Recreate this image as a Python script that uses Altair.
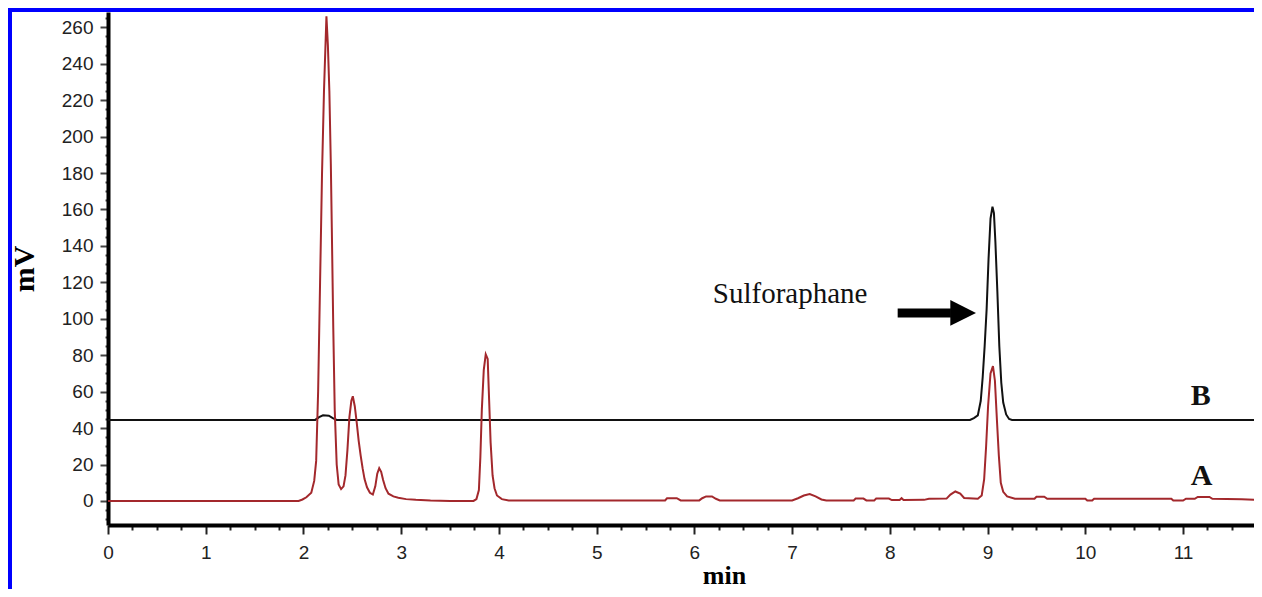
import altair as alt
import pandas as pd

# ---- chromatogram A (red) ----
a_x = [0, 1.95, 1.99, 2.03, 2.08, 2.11, 2.13, 2.15, 2.17, 2.19, 2.21, 2.235, 2.25, 2.265,
       2.28, 2.29, 2.305, 2.32, 2.34, 2.36, 2.385, 2.41, 2.43, 2.45, 2.47, 2.49, 2.505,
       2.525, 2.545, 2.565, 2.585, 2.605, 2.625, 2.65, 2.68, 2.71, 2.735, 2.755, 2.775,
       2.795, 2.815, 2.84, 2.87, 2.92, 2.97, 3.05, 3.15, 3.3, 3.5, 3.74, 3.77, 3.795,
       3.81, 3.825, 3.845, 3.865, 3.885, 3.9, 3.915, 3.935, 3.955, 3.98, 4.03, 4.1,
       5.6, 5.7, 5.72, 5.82, 5.86, 6.05, 6.08, 6.12, 6.18, 6.22, 6.26, 7.0, 7.06, 7.12,
       7.18, 7.24, 7.3, 7.35, 7.63, 7.65, 7.73, 7.76, 7.84, 7.86, 7.99, 8.02, 8.1, 8.12,
       8.14, 8.35, 8.4, 8.58, 8.62, 8.67, 8.72, 8.76, 8.9, 8.94, 8.965, 8.985, 9.005,
       9.03, 9.055, 9.075, 9.095, 9.115, 9.135, 9.16, 9.2, 9.28, 9.48, 9.5, 9.58, 9.61,
       10.0, 10.02, 10.07, 10.09, 10.88, 10.9, 11.0, 11.03, 11.12, 11.15, 11.27, 11.3,
       11.6, 11.81]
a_y = [0, 0, 0.8, 2, 4.5, 11, 22, 60, 120, 180, 225, 266, 250, 225,
       185, 150, 95, 50, 20, 9, 6.5, 8, 14, 28, 46, 55, 57.5,
       52, 43, 33, 25, 18, 12, 7.5, 4.5, 3.5, 8, 15, 18,
       16, 11.5, 7, 4, 2.5, 1.8, 1.0, 0.6, 0.2, 0, 0, 1, 6,
       24, 50, 72, 80.5, 78, 55, 32, 14, 7, 3, 1, 0.2,
       0.2, 0.3, 1.5, 1.5, 0.3, 0.3, 1.5, 2.5, 2.5, 1.2, 0.3, 0.3, 1.5, 3.0,
       3.8, 2.5, 0.8, 0.3, 0.3, 1.3, 1.3, 0.3, 0.3, 1.3, 1.3, 0.5, 0.5, 1.5,
       0.5, 0.6, 1.2, 1.3, 3.5, 5.2, 4.0, 1.6, 1.2, 3, 12, 30, 52,
       70, 74, 66, 45, 25, 10, 5, 2.5, 1.2, 1.2, 2.3, 2.3, 1.2,
       1.2, 0.2, 0.2, 1.2, 1.2, 0.2, 0.2, 1.2, 1.2, 2.2, 2.2, 1.2,
       1.0, 0.5]

# ---- chromatogram B (black) ----
b_x = [0, 2.12, 2.16, 2.2, 2.26, 2.3, 2.34, 8.82, 8.86, 8.9, 8.93, 8.95, 8.97, 8.99,
       9.01, 9.03, 9.05, 9.065, 9.08, 9.1, 9.12, 9.14, 9.16, 9.19, 9.22, 9.25, 11.81]
b_y = [44.5, 44.5, 46, 47, 46.8, 45.5, 44.5, 44.5, 45.5, 47, 55, 68, 85, 105,
       133, 155, 161.5, 158, 142, 115, 85, 65, 54, 47.5, 45, 44.5, 44.5]

# ---- axes ----
x_ticks = [i * 0.25 for i in range(47)]
y_ticks = list(range(-10, 266, 5))
X_DOMAIN = [0, 11.726]
Y_DOMAIN = [-13.2, 268.4]

# ---- annotations ----
name_text = ["Sulforaphane"]
name_x = [6.98]
name_y = [108.7]
trace_text = ["B", "A"]
trace_x = [11.18, 11.19]
trace_y = [52.7, 8.8]
arrow_x = [8.08, 8.625]
arrow_y = [103.2, 103.2]
head_x = [8.75]
head_y = [103.2]

df_a = pd.DataFrame({"x": a_x, "y": a_y})
df_b = pd.DataFrame({"x": b_x, "y": b_y})
df_name = pd.DataFrame({"x": name_x, "y": name_y, "t": name_text})
df_trace = pd.DataFrame({"x": trace_x, "y": trace_y, "t": trace_text})
df_arrow = pd.DataFrame({"x": arrow_x, "y": arrow_y})
df_head = pd.DataFrame({"x": head_x, "y": head_y})
df_one = pd.DataFrame({"x": [0], "y": [0]})

is_major_x = "datum.value % 1 === 0"
is_major_y = "datum.value % 20 === 0"

x_axis = alt.Axis(
    values=x_ticks,
    labelExpr=f"{is_major_x} ? format(datum.value, 'd') : ''",
    tickSize={"condition": {"test": is_major_x, "value": 9}, "value": 5},
    tickWidth=2, tickColor="#222",
    domainColor="#000", domainWidth=4,
    labelFont="Liberation Sans", labelFontSize=19, labelColor="#222",
    labelPadding=9, labelFlush=False, labelOverlap=False, grid=False,
    titleFont="Liberation Serif", titleFontWeight="bold", titleFontSize=26,
    titleColor="#000", titleX=616, titleY=58, titleBaseline="alphabetic",
    titleAlign="center",
)
y_axis = alt.Axis(
    values=y_ticks,
    labelExpr=f"{is_major_y} && datum.value >= 0 ? format(datum.value, 'd') : ''",
    tickSize={"condition": {"test": is_major_y, "value": 8}, "value": 3},
    tickWidth=2, tickColor="#444",
    domainColor="#000", domainWidth=4,
    labelFont="Liberation Sans", labelFontSize=19, labelColor="#222",
    labelPadding=7, labelOverlap=False, grid=False,
    titleFont="Liberation Serif", titleFontWeight="bold", titleFontSize=30,
    titleColor="#000", titleX=-75, titleY=256.5, titleAngle=270,
    titleBaseline="alphabetic", titleAlign="center",
)

X = alt.X("x:Q", scale=alt.Scale(domain=X_DOMAIN, nice=False, zero=False), axis=x_axis, title="min")
Y = alt.Y("y:Q", scale=alt.Scale(domain=Y_DOMAIN, nice=False, zero=False), axis=y_axis, title="mV")

line_b = alt.Chart(df_b).mark_line(color="#111", strokeWidth=2, clip=True).encode(x=X, y=Y, order="x:Q")
line_a = alt.Chart(df_a).mark_line(color="#a3282c", strokeWidth=2, clip=True).encode(x=X, y=Y, order="x:Q")

name = alt.Chart(df_name).mark_text(
    font="Liberation Serif", fontSize=29, color="#111", align="center", baseline="alphabetic"
).encode(x=X, y=Y, text="t:N")
traces = alt.Chart(df_trace).mark_text(
    font="Liberation Serif", fontSize=30, fontWeight="bold", color="#111",
    align="center", baseline="alphabetic"
).encode(x=X, y=Y, text="t:N")

shaft = alt.Chart(df_arrow).mark_line(color="#000", strokeWidth=9, strokeCap="butt").encode(x=X, y=Y)
head = alt.Chart(df_head).mark_point(
    shape="M-1,-1L1,0L-1,1Z", size=660, filled=True, color="#000", opacity=1, strokeWidth=0
).encode(x=X, y=Y)

frame_left = alt.Chart(df_one).mark_rule(color="#0000ff", strokeWidth=5).encode(
    x=alt.value(-98.5), y=alt.value(-10), y2=alt.value(600)
)
frame_top = alt.Chart(df_one).mark_rule(color="#0000ff", strokeWidth=5).encode(
    y=alt.value(-2.5), x=alt.value(-101), x2=alt.value(1200)
)

chart = alt.layer(
    line_b, line_a, name, traces, shaft, head, frame_left, frame_top
).properties(
    width=1146, height=513,
    padding={"left": 100, "top": 4, "right": 0, "bottom": 64},
    autosize=alt.AutoSizeParams(type="none"),
    background="white",
).configure_view(stroke=None)

chart.save("out.html", embed_options={"renderer": "svg", "actions": False})
